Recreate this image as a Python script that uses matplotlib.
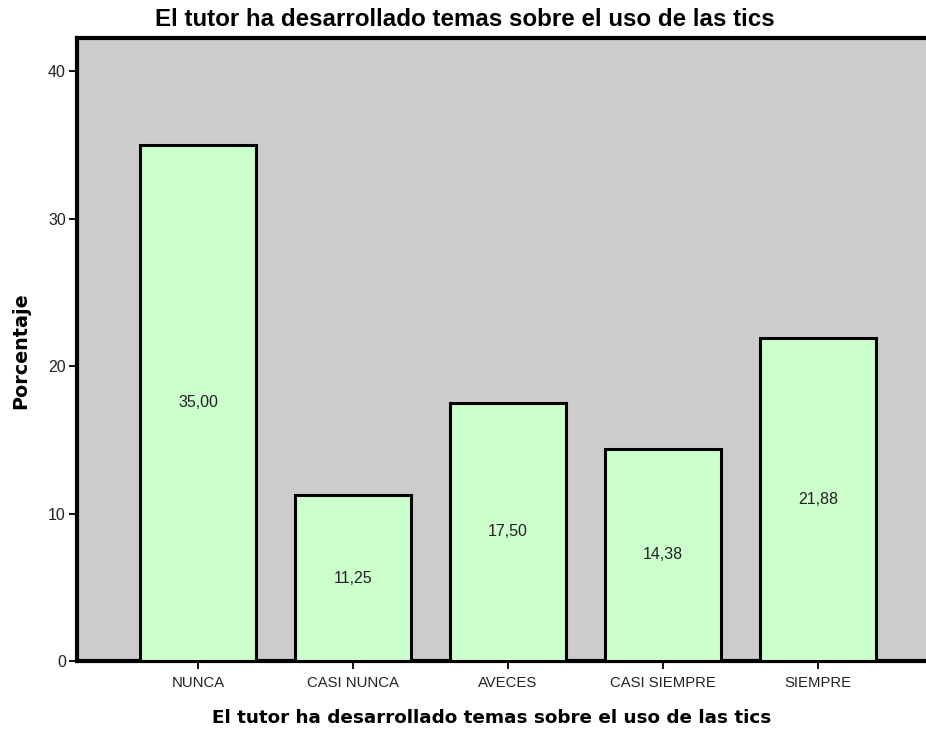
import matplotlib
matplotlib.use("Agg")
import matplotlib.pyplot as plt

categories = ["NUNCA", "CASI NUNCA", "AVECES", "CASI SIEMPRE", "SIEMPRE"]
values = [35.00, 11.25, 17.50, 14.38, 21.88]
value_labels = ["35,00", "11,25", "17,50", "14,38", "21,88"]
yticks = [0, 10, 20, 30, 40]
title = "El tutor ha desarrollado temas sobre el uso de las tics"

plt.rcParams['font.family'] = ['Liberation Sans', 'DejaVu Sans']

W, H = 926, 731
fig = plt.figure(figsize=(W / 100, H / 100), dpi=100)
left, right, top, bottom = 77, 939, 38, 661
ax = fig.add_axes([left / W, 1 - bottom / H, (right - left) / W, (bottom - top) / H])
ax.set_facecolor("#cccccc")

x = list(range(len(categories)))
ax.bar(x, values, width=0.75, color="#ccffcc", edgecolor="black", linewidth=2.2, zorder=3)
for xi, v, lab in zip(x, values, value_labels):
    ax.text(xi, v / 2, lab, ha="center", va="center", fontsize=11.5, color="#222222", zorder=4)

ax.set_xlim(-0.78, 4.78)
ax.set_ylim(0, 42.24)
ax.set_xticks(x)
ax.set_xticklabels(categories, fontsize=10.7, color="#222222")
ax.set_yticks(yticks)
ax.set_yticklabels([str(t) for t in yticks], fontsize=11.5, color="#222222")
ax.tick_params(axis="y", direction="out", length=6, width=1.3, pad=2)
ax.tick_params(axis="x", direction="out", length=6, width=1.3, pad=5)
for s in ax.spines.values():
    s.set_linewidth(3)
    s.set_color("black")

fig.text(465 / W, 1 - 19 / H, title, fontsize=17.4, fontweight="bold",
         ha="center", va="center", color="black")
fig.text(492 / W, 1 - 718 / H, title, fontsize=13.2, fontweight="bold",
         ha="center", va="center", color="black", family="DejaVu Sans")
fig.text(21 / W, 1 - 351 / H, "Porcentaje", fontsize=13.8, fontweight="bold",
         ha="center", va="center", rotation=90, color="black", family="DejaVu Sans")

fig.savefig("out.png", dpi=100)
